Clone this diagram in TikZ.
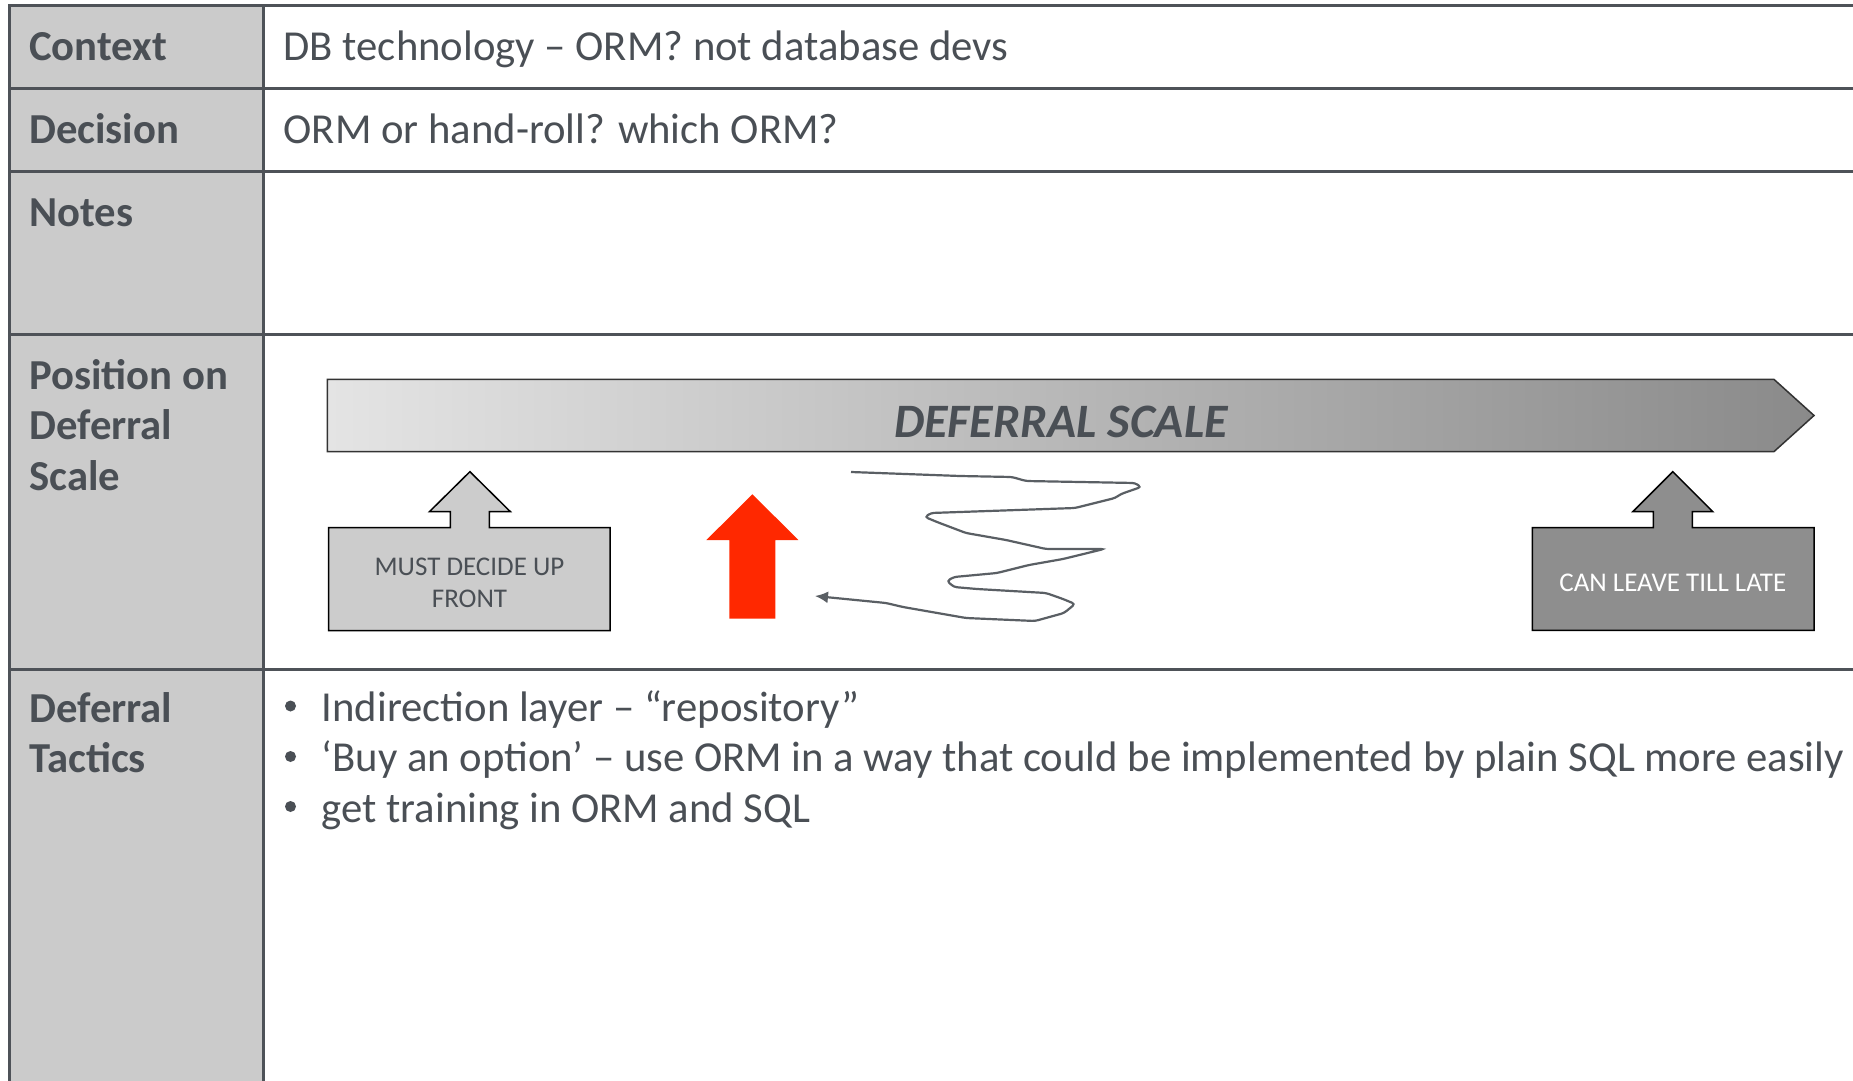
\documentclass[tikz,border=0pt]{standalone}
\usepackage{fontspec}
\setmainfont{Carlito}
\usetikzlibrary{arrows.meta}
\definecolor{txt}{RGB}{74,79,85}
\definecolor{tline}{RGB}{78,82,88}
\definecolor{leftfill}{RGB}{203,203,203}
\definecolor{scA}{RGB}{228,228,228}
\definecolor{scB}{RGB}{138,138,138}
\definecolor{mustfill}{RGB}{204,204,204}
\definecolor{canfill}{RGB}{142,142,142}
\definecolor{redarrow}{RGB}{255,40,0}
\definecolor{squig}{RGB}{90,95,100}
\begin{document}
\begin{tikzpicture}[x=1pt,y=-1pt,
  tbl/.style={draw=tline,line width=3pt},
  lbl/.style={anchor=base west,inner sep=0pt,text=txt,font=\fontsize{42.7}{50.7}\selectfont\bfseries},
  val/.style={anchor=base west,inner sep=0pt,text=txt,font=\fontsize{42.7}{50.7}\selectfont},
  bul/.style={circle,fill=txt,inner sep=0pt,minimum size=11pt},
  scaletxt/.style={anchor=base,inner sep=0pt,text=txt,font=\fontsize{48}{50}\selectfont\bfseries\itshape},
  boxtxt/.style={anchor=base,inner sep=0pt,font=\fontsize{27}{32}\selectfont},
  callout/.style={draw=black,line width=1.5pt,line join=miter},
  squigline/.style={draw=squig,line width=2.2pt,rounded corners=3pt,-{Latex[length=13pt,width=12pt]}}
]
\useasboundingbox (0,0) rectangle (1853,1081);
\fill[white] (0,0) rectangle (1853,1081);
% left column
\fill[leftfill] (9.5,6) rectangle (263.5,1081);
% table lines
\draw[tbl] (9.5,1081) -- (9.5,6) -- (1853,6);
\draw[tbl] (263.5,6) -- (263.5,1081);
\draw[tbl] (9.5,88.6) -- (1853,88.6);
\draw[tbl] (9.5,171) -- (1853,171);
\draw[tbl] (9.5,334.5) -- (1853,334.5);
\draw[tbl] (9.5,669) -- (1853,669);
% labels
\node[lbl] (lctx) at (29,60.5) {Context};
\node[lbl] (ldec) at (29,143) {Decision};
\node[lbl] (lnot) at (29,226) {Notes};
\node[lbl] (lpos1) at (29,389) {Position on};
\node[lbl] (lpos2) at (29,439.5) {Deferral};
\node[lbl] (lpos3) at (29,490) {Scale};
\node[lbl] (ltac1) at (29,722) {Deferral};
\node[lbl] (ltac2) at (29,772.5) {Tactics};
% values
\node[val] (vctx) at (283.5,60.5) {DB technology – ORM? not database devs};
\node[val] (vdec) at (283.5,143) {ORM or hand-roll? which ORM?};
\node[bul] (b1) at (290.5,706) {};
\node[val] (t1) at (321.5,721) {Indirection layer – “repository”};
\node[bul] (b2) at (290.5,756.5) {};
\node[val] (t2) at (321.5,771.5) {‘Buy an option’ – use ORM in a way that could be implemented by plain SQL more easily};
\node[bul] (b3) at (290.5,806.5) {};
\node[val] (t3) at (321.5,822) {get training in ORM and SQL};
% deferral scale arrow
\draw[draw=black!80,line width=1.5pt,left color=scA,right color=scB]
  (327.4,379.4) -- (1774,379.4) -- (1814,415.5) -- (1774,451.6) -- (327.4,451.6) -- cycle;
\node[scaletxt] (scl) at (1061,437.5) {DEFERRAL SCALE};
% must decide up front callout
\draw[callout,fill=mustfill]
  (328.7,630.7) -- (328.7,527.7) -- (450.4,527.7) -- (450.4,511.7) -- (429.4,511.7)
  -- (469.9,471.7) -- (510.4,511.7) -- (489.4,511.7) -- (489.4,527.7) -- (610,527.7)
  -- (610,630.7) -- cycle;
\node[boxtxt,text=txt] (must1) at (469.5,575.3) {MUST DECIDE UP};
\node[boxtxt,text=txt] (must2) at (469.5,607.3) {FRONT};
% can leave till late callout
\draw[callout,fill=canfill]
  (1532.3,630.3) -- (1532.3,527.7) -- (1653.3,527.7) -- (1653.3,511.7) -- (1632.8,511.7)
  -- (1672.8,471.7) -- (1712.8,511.7) -- (1692.3,511.7) -- (1692.3,527.7) -- (1814,527.7)
  -- (1814,630.3) -- cycle;
\node[boxtxt,text=white] (can) at (1672.8,591.7) {CAN LEAVE TILL LATE};
% red arrow
\fill[redarrow] (752.4,494.3) -- (798.4,540) -- (775.4,540) -- (775.4,618.7)
  -- (729.4,618.7) -- (729.4,540) -- (706.4,540) -- cycle;
% squiggle
\coordinate (sqA) at (851,472);
\coordinate (sqB) at (815,596);
\draw[squigline] (sqA) -- (960,476) -- (1012,477) -- (1026,481) -- (1135,483) -- (1141,487)
  -- (1121,494) -- (1115,498) -- (1075,508) -- (931,513) -- (925,517) -- (937,522)
  -- (966,533) -- (1006,540) -- (1046,549) -- (1104,549) -- (1063,559) -- (1029,565)
  -- (997,573) -- (954,577) -- (947,581) -- (954,587) -- (977,589) -- (1046,593)
  -- (1063,599) -- (1075,604) -- (1064,613) -- (1035,621) -- (966,618) -- (903,607)
  -- (886,603) -- (sqB);
\end{tikzpicture}
\end{document}
